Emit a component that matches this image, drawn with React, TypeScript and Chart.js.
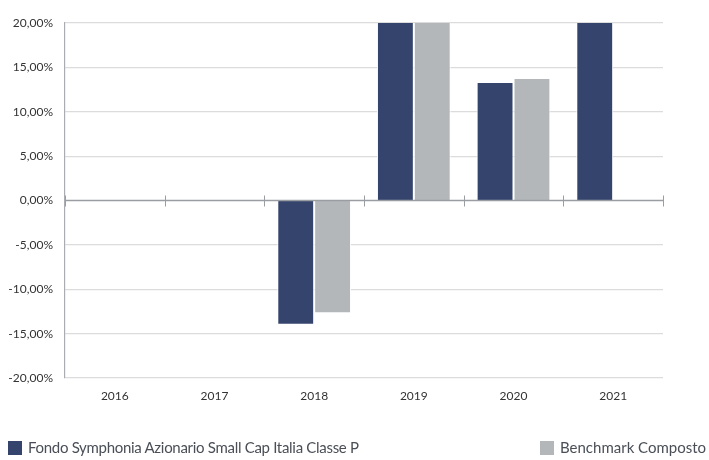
import React, { useEffect, useRef } from "react";
import { Chart, registerables } from "chart.js";

Chart.register(...registerables);

const categories = ["2016", "2017", "2018", "2019", "2020", "2021"];
const fundValues: (number | null)[] = [null, null, -14.0, 27.5, 13.35, 24.0];
const benchmarkValues: (number | null)[] = [null, null, -12.7, 26.0, 13.8, null];
const fundLabel = "Fondo Symphonia Azionario Small Cap Italia Classe P";
const benchmarkLabel = "Benchmark Composto";
const fundColor = "#34446c";
const benchmarkColor = "#b4b7ba";

const zeroTicksPlugin = {
  id: "zeroTicks",
  afterDatasetsDraw(chart: any) {
    const { ctx, scales } = chart;
    const x = scales.x;
    const y = scales.y;
    const y0 = y.getPixelForValue(0);
    ctx.save();
    ctx.strokeStyle = "#9a9ea3";
    ctx.lineWidth = 1.5;
    ctx.beginPath();
    ctx.moveTo(chart.chartArea.left, y0);
    ctx.lineTo(chart.chartArea.right, y0);
    ctx.stroke();
    ctx.lineWidth = 1;
    for (let i = 0; i <= categories.length; i++) {
      const px = Math.round(x.getPixelForValue(i - 0.5)) + 0.5;
      ctx.beginPath();
      ctx.moveTo(px, y0 - 5);
      ctx.lineTo(px, y0 + 6);
      ctx.stroke();
    }
    ctx.restore();
  },
};

export default function App() {
  const ref = useRef<HTMLCanvasElement | null>(null);
  useEffect(() => {
    if (!ref.current) return;
    const chart = new Chart(ref.current, {
      type: "bar",
      data: {
        labels: categories,
        datasets: [
          {
            label: fundLabel,
            data: fundValues,
            backgroundColor: fundColor,
            borderColor: "#ffffff",
            borderWidth: 1,
            categoryPercentage: 0.74,
            barPercentage: 1,
          },
          {
            label: benchmarkLabel,
            data: benchmarkValues,
            backgroundColor: benchmarkColor,
            borderColor: "#ffffff",
            borderWidth: 1,
            categoryPercentage: 0.74,
            barPercentage: 1,
          },
        ],
      },
      options: {
        animation: false,
        responsive: false,
        layout: { padding: { top: 23, right: 46, bottom: 52, left: 0 } },
        plugins: { legend: { display: false }, tooltip: { enabled: false } },
        scales: {
          x: {
            grid: { display: false, drawTicks: false },
            border: { display: false },
            ticks: {
              padding: 11,
              color: "#333333",
              font: { family: "Lato", size: 12 },
            },
            afterFit(scale: any) {
              scale.height = 30;
            },
          },
          y: {
            min: -20,
            max: 20,
            ticks: {
              stepSize: 5,
              padding: 12,
              color: "#333333",
              font: { family: "Lato", size: 12 },
              callback: (v: any) => Number(v).toFixed(2).replace(".", ",") + "%",
            },
            grid: {
              drawTicks: false,
              color: (c: any) => (c.tick && c.tick.value === 0 ? "rgba(0,0,0,0)" : "#dcdcdc"),
              lineWidth: 1.2,
            },
            border: { display: true, color: "#a9adb1", width: 1.2 },
            afterFit(scale: any) {
              scale.width = 65;
            },
          },
        },
      },
      plugins: [zeroTicksPlugin],
    });
    return () => chart.destroy();
  }, []);

  const legendText: React.CSSProperties = {
    fontFamily: "Lato, sans-serif",
    fontSize: 15,
    color: "#4a4f57",
    whiteSpace: "nowrap",
  };
  const swatch = (color: string): React.CSSProperties => ({
    display: "inline-block",
    width: 14,
    height: 14,
    background: color,
    marginRight: 6,
    verticalAlign: "-2px",
  });

  return (
    <div style={{ position: "fixed", left: 0, top: 0, width: 709, height: 460, background: "#fff" }}>
      <canvas ref={ref} width={709} height={460} style={{ position: "absolute", left: 0, top: 0 }} />
      <div style={{ position: "absolute", left: 8, top: 438, ...legendText, letterSpacing: "-0.3px" }}>
        <span style={swatch(fundColor)} />
        {fundLabel}
      </div>
      <div style={{ position: "absolute", left: 540, top: 438, ...legendText }}>
        <span style={swatch(benchmarkColor)} />
        {benchmarkLabel}
      </div>
    </div>
  );
}
